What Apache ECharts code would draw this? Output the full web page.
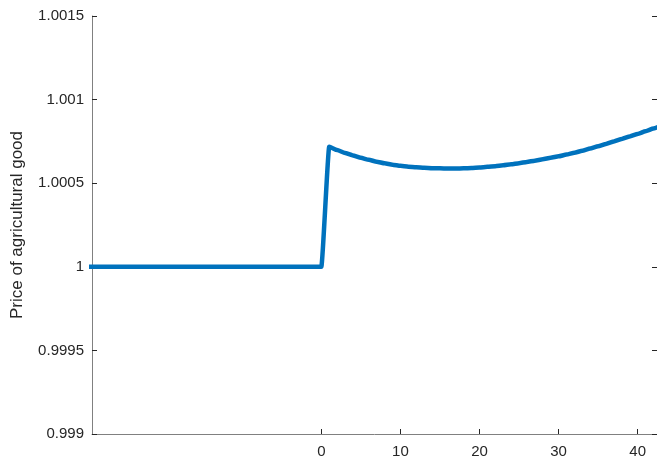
<!DOCTYPE html>
<html>
<head>
<meta charset="utf-8">
<script src="https://cdn.jsdelivr.net/npm/echarts@6/dist/echarts.min.js"></script>
<style>
  html, body { margin: 0; padding: 0; background: #fff; }
  #chart { width: 657px; height: 459px; }
</style>
</head>
<body>
<div id="chart"></div>
<script>
// time periods (x) and price of agricultural good (y)
var periods = [-30, -29, -28, -27, -26, -25, -24, -23, -22, -21, -20, -19, -18, -17, -16, -15, -14, -13, -12, -11,
  -10, -9, -8, -7, -6, -5, -4, -3, -2, -1, 0,
  1, 2, 3, 4, 5, 6, 7, 8, 9, 10,
  11, 12, 13, 14, 15, 16, 17, 18, 19, 20,
  21, 22, 23, 24, 25, 26, 27, 28, 29, 30,
  31, 32, 33, 34, 35, 36, 37, 38, 39, 40,
  41, 42, 43];
var price = [1, 1, 1, 1, 1, 1, 1, 1, 1, 1, 1, 1, 1, 1, 1, 1, 1, 1, 1, 1,
  1, 1, 1, 1, 1, 1, 1, 1, 1, 1, 1,
  1.000718, 1.000698, 1.000681, 1.000666, 1.000652, 1.000640, 1.000629, 1.000619, 1.000611, 1.000604,
  1.000599, 1.000595, 1.000592, 1.000590, 1.000589, 1.000588, 1.000588, 1.000589, 1.000591, 1.000594,
  1.000598, 1.000602, 1.000607, 1.000613, 1.000620, 1.000627, 1.000635, 1.000643, 1.000652, 1.000661,
  1.000671, 1.000682, 1.000694, 1.000707, 1.000721, 1.000735, 1.000750, 1.000765, 1.000780, 1.000795,
  1.000811, 1.000827, 1.000844];
var xTicks = [0, 10, 20, 30, 40];
var yTicks = [0.999, 0.9995, 1, 1.0005, 1.001, 1.0015];
var yLabels = ['0.999', '0.9995', '1', '1.0005', '1.001', '1.0015'];

var chart = echarts.init(document.getElementById('chart'));

var axisColor = '#808080';
var textColor = '#262626';
var font = 'Liberation Sans';

var seriesData = [];
for (var i = 0; i < periods.length; i++) {
  seriesData.push([periods[i], price[i]]);
}

function yLabel(v) {
  for (var k = 0; k < yTicks.length; k++) {
    if (Math.abs(v - yTicks[k]) < 1e-9) return yLabels[k];
  }
  return '';
}

var option = {
  animation: false,
  backgroundColor: '#fff',
  grid: {
    left: 92,
    right: 0,
    top: 16,
    bottom: 25,
    containLabel: false
  },
  xAxis: {
    type: 'value',
    min: -29,
    max: 42.45,
    axisLine: { show: true, onZero: false, lineStyle: { color: axisColor, width: 1 } },
    axisTick: { show: true, inside: true, length: 5, customValues: xTicks, lineStyle: { color: textColor } },
    axisLabel: {
      customValues: xTicks,
      color: textColor,
      fontFamily: font,
      fontSize: 15,
      margin: 10
    },
    splitLine: { show: false }
  },
  yAxis: [
    {
      type: 'value',
      min: 0.999,
      max: 1.0015,
      name: 'Price of agricultural good',
      nameLocation: 'middle',
      nameGap: 66,
      nameTextStyle: { color: textColor, fontFamily: font, fontSize: 17 },
      axisLine: { show: true, onZero: false, lineStyle: { color: axisColor, width: 1 } },
      axisTick: { show: true, inside: true, length: 5, customValues: yTicks, lineStyle: { color: textColor } },
      axisLabel: {
        customValues: yTicks,
        formatter: yLabel,
        color: textColor,
        fontFamily: font,
        fontSize: 15,
        margin: 8
      },
      splitLine: { show: false }
    },
    {
      type: 'value',
      position: 'right',
      min: 0.999,
      max: 1.0015,
      axisLine: { show: false, onZero: false },
      axisTick: { show: true, inside: true, length: 5, customValues: yTicks, lineStyle: { color: textColor } },
      axisLabel: { show: false },
      splitLine: { show: false }
    }
  ],
  series: [
    {
      type: 'line',
      data: seriesData,
      showSymbol: false,
      clip: true,
      smooth: 0.15,
      smoothMonotone: 'x',
      lineStyle: { color: '#0072BD', width: 4.5 },
      itemStyle: { color: '#0072BD' }
    }
  ]
};

chart.setOption(option);
</script>
</body>
</html>
